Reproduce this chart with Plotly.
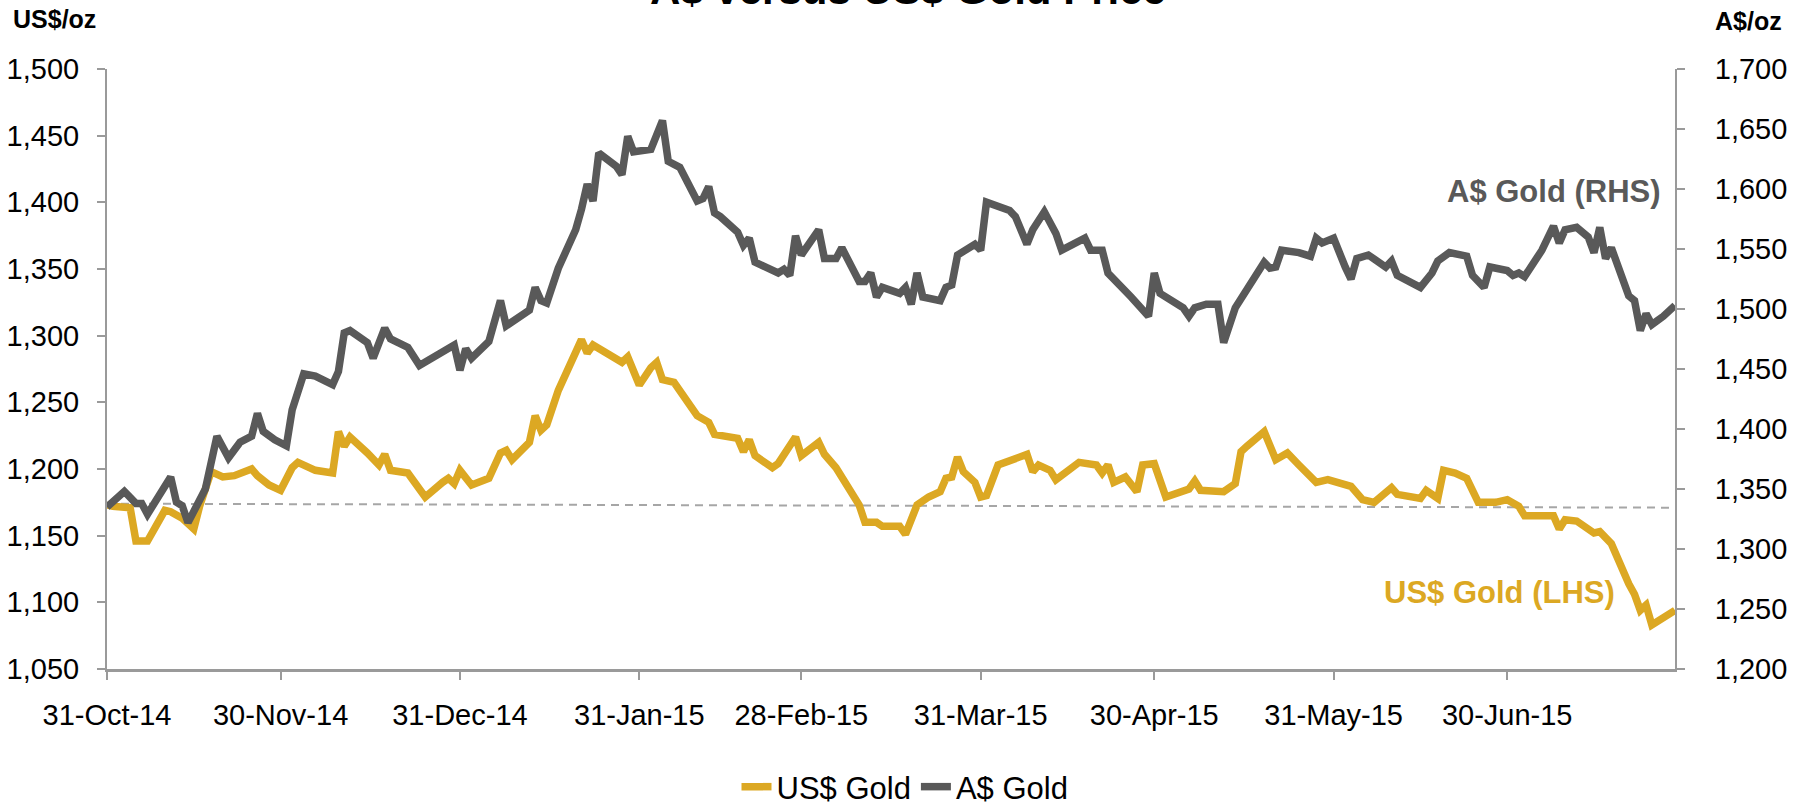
import pandas as pd
import plotly.graph_objects as go

START = "2014-10-31"

us_days = [0, 1, 4, 5, 7, 10, 11, 13, 15, 16,
           18, 20, 22, 25, 26, 28, 30, 32, 33, 36,
           39, 40, 41, 42, 45, 47, 48, 49, 52, 55,
           58, 59, 60, 61, 63, 66, 68, 69, 70, 73,
           74, 75, 76, 78, 82, 83, 84, 89, 90, 92,
           94, 95, 96, 98, 102, 104, 105, 109, 110, 111,
           112, 115, 116, 119, 120, 123, 124, 126, 130, 131,
           133, 134, 137, 138, 140, 142, 144, 145, 146, 147,
           148, 150, 151, 152, 154, 159, 160, 161, 163, 164,
           168, 171, 172, 173, 174, 176, 178, 179, 181, 183,
           187, 188, 189, 193, 195, 196, 197, 200, 202, 204,
           206, 209, 211, 213, 215, 217, 219, 222, 223, 227,
           228, 230, 231, 233, 235, 237, 240, 242, 244, 245,
           250, 251, 252, 254, 257, 258, 260, 263, 264, 265,
           266, 267, 269, 271]
us_gold = [1173, 1172, 1171, 1146, 1146, 1169, 1168, 1163, 1155, 1172,
           1198, 1194, 1195, 1200, 1195, 1188, 1184, 1201, 1205, 1199,
           1197, 1228, 1217, 1224, 1212, 1203, 1211, 1199, 1197, 1179,
           1190, 1193, 1189, 1199, 1188, 1193, 1212, 1214, 1207, 1220,
           1240, 1229, 1233, 1259, 1297, 1287, 1293, 1280, 1284, 1263,
           1276, 1280, 1267, 1265, 1240, 1235, 1226, 1223, 1213, 1222,
           1210, 1201, 1204, 1224, 1210, 1220, 1211, 1201, 1173, 1160,
           1160, 1157, 1157, 1151, 1173, 1179, 1183, 1193, 1194, 1209,
           1198, 1190, 1179, 1180, 1203, 1211, 1198, 1203, 1199, 1192,
           1205, 1203, 1197, 1203, 1190, 1194, 1183, 1203, 1204, 1179,
           1185, 1191, 1184, 1183, 1189, 1213, 1217, 1228, 1207, 1212,
           1203, 1190, 1192, 1190, 1187, 1177, 1175, 1186, 1181, 1178,
           1184, 1178, 1199, 1197, 1193, 1175, 1175, 1177, 1172, 1165,
           1165, 1155, 1162, 1161, 1152, 1153, 1144, 1114, 1106, 1094,
           1098, 1083, 1088, 1094]

aud_days = [0, 3, 5, 6, 7, 11, 12, 13, 14, 17,
            19, 21, 23, 25, 26, 27, 29, 31, 32, 33,
            34, 36, 39, 40, 41, 42, 45, 46, 48, 49,
            52, 54, 56, 60, 61, 62, 63, 66, 68, 69,
            73, 74, 75, 76, 78, 81, 82, 83, 84, 85,
            88, 89, 90, 91, 94, 96, 97, 99, 102, 103,
            104, 105, 106, 109, 110, 111, 112, 116, 117, 118,
            119, 120, 123, 124, 126, 127, 130, 131, 132, 133,
            134, 137, 138, 139, 140, 141, 144, 145, 146, 147,
            150, 151, 152, 156, 157, 159, 160, 162, 164, 165,
            169, 170, 172, 173, 177, 180, 181, 182, 186, 187,
            188, 190, 192, 193, 195, 198, 200, 201, 202, 203,
            206, 208, 209, 210, 212, 214, 215, 216, 218, 221,
            222, 223, 227, 229, 230, 232, 235, 236, 238, 239,
            242, 243, 244, 245, 248, 250, 251, 252, 254, 256,
            257, 258, 259, 260, 262, 263, 264, 265, 266, 267,
            269, 271]
aud_gold = [1335, 1348, 1338, 1338, 1329, 1360, 1339, 1336, 1322, 1350,
            1394, 1376, 1389, 1394, 1413, 1398, 1391, 1386, 1416, 1429,
            1446, 1444, 1437, 1448, 1480, 1482, 1472, 1459, 1484, 1475,
            1468, 1453, 1459, 1470, 1449, 1467, 1459, 1473, 1507, 1486,
            1499, 1518, 1507, 1505, 1534, 1566, 1583, 1604, 1590, 1630,
            1619, 1612, 1644, 1631, 1633, 1657, 1623, 1618, 1590, 1592,
            1602, 1580, 1577, 1564, 1553, 1559, 1539, 1530, 1533, 1528,
            1561, 1545, 1566, 1542, 1542, 1551, 1523, 1523, 1530, 1510,
            1518, 1513, 1518, 1504, 1530, 1510, 1507, 1518, 1520, 1545,
            1554, 1549, 1589, 1582, 1577, 1554, 1566, 1581, 1563, 1549,
            1559, 1549, 1549, 1530, 1510, 1494, 1530, 1513, 1501, 1494,
            1501, 1504, 1504, 1472, 1501, 1523, 1539, 1534, 1535, 1549,
            1547, 1544, 1559, 1555, 1559, 1535, 1525, 1542, 1545, 1535,
            1540, 1528, 1518, 1530, 1540, 1547, 1544, 1528, 1518, 1535,
            1532, 1528, 1530, 1527, 1549, 1569, 1555, 1566, 1568, 1560,
            1547, 1568, 1542, 1551, 1523, 1511, 1507, 1482, 1496, 1487,
            1494, 1503]

trend_days = [0, 271]
trend_us = [1174, 1171]

tick_dates = ["2014-10-31", "2014-11-30", "2014-12-31", "2015-01-31", "2015-02-28",
              "2015-03-31", "2015-04-30", "2015-05-31", "2015-06-30"]
tick_labels = ["31-Oct-14", "30-Nov-14", "31-Dec-14", "31-Jan-15", "28-Feb-15",
               "31-Mar-15", "30-Apr-15", "31-May-15", "30-Jun-15"]

assert len(us_days) == len(us_gold) and len(aud_days) == len(aud_gold)

start = pd.Timestamp(START)
def to_dates(days):
    return [start + pd.Timedelta(days=d) for d in days]

GOLD = "#DCA823"
GREY = "#595959"
AXIS = "#9a9a9a"
FONT = "Liberation Sans, Arial, sans-serif"

W, H = 1803, 805
# plot area in screen pixels (as seen in the reference)
L, R, T, B = 107, 1675, 69, 669
PW, PH = R - L, B - T

fig = go.Figure()
fig.add_trace(go.Scatter(x=to_dates(trend_days), y=trend_us, mode="lines",
                         line=dict(color="#a6a6a6", width=2, dash="8px,6px"),
                         showlegend=False, hoverinfo="skip"))
fig.add_trace(go.Scatter(x=to_dates(us_days), y=us_gold, mode="lines", name="US$ Gold",
                         line=dict(color=GOLD, width=7.5)))
fig.add_trace(go.Scatter(x=to_dates(aud_days), y=aud_gold, mode="lines", name="A$ Gold",
                         line=dict(color=GREY, width=7.5), yaxis="y2"))

def px_x(x):
    return (x - L) / PW

def px_y(y):
    return (B - y) / PH

xr = to_dates([0, max(us_days)])
fig.update_layout(
    width=W, height=H,
    margin=dict(l=L, r=W - R, t=T, b=H - B, autoexpand=False),
    paper_bgcolor="white", plot_bgcolor="white",
    font=dict(family=FONT, size=29, color="#000000"),
    showlegend=True,
    legend=dict(orientation="h", x=px_x(905), xanchor="center",
                y=px_y(787), yanchor="middle",
                font=dict(size=31), itemwidth=30, tracegroupgap=0),
    xaxis=dict(type="date", range=xr, tickvals=[pd.Timestamp(t) for t in tick_dates],
               ticktext=tick_labels, showgrid=False, zeroline=False,
               showline=True, linecolor=AXIS, linewidth=3,
               ticks="outside", ticklen=8, tickwidth=2, tickcolor=AXIS,
               ticklabelstandoff=10, tickfont=dict(size=29)),
    yaxis=dict(range=[1050, 1500], dtick=50, tickformat=",", showgrid=False, zeroline=False,
               showline=True, linecolor=AXIS, linewidth=2,
               ticks="outside", ticklen=8, tickwidth=2, tickcolor=AXIS,
               ticklabelstandoff=12, tickfont=dict(size=29)),
    yaxis2=dict(range=[1200, 1700], dtick=50, tickformat=",", overlaying="y", side="right",
                showgrid=False, zeroline=False,
                showline=True, linecolor=AXIS, linewidth=2,
                ticks="outside", ticklen=8, tickwidth=2, tickcolor=AXIS,
                ticklabelstandoff=24, tickfont=dict(size=29)),
)

fig.add_annotation(text="<b>A$ versus US$ Gold Price</b>", xref="paper", yref="paper",
                   x=px_x(908), y=px_y(-11), xanchor="center", yanchor="middle",
                   showarrow=False, font=dict(size=42, color="#000000"))
fig.add_annotation(text="<b>US$/oz</b>", xref="paper", yref="paper",
                   x=px_x(11), y=px_y(19), xanchor="left", yanchor="middle",
                   showarrow=False, font=dict(size=25, color="#000000"))
fig.add_annotation(text="<b>A$/oz</b>", xref="paper", yref="paper",
                   x=px_x(1784), y=px_y(21), xanchor="right", yanchor="middle",
                   showarrow=False, font=dict(size=25, color="#000000"))
fig.add_annotation(text="<b>A$ Gold (RHS)</b>", xref="paper", yref="paper",
                   x=px_x(1663), y=px_y(192), xanchor="right", yanchor="middle",
                   showarrow=False, font=dict(size=31, color=GREY))
fig.add_annotation(text="<b>US$ Gold (LHS)</b>", xref="paper", yref="paper",
                   x=px_x(1617), y=px_y(592), xanchor="right", yanchor="middle",
                   showarrow=False, font=dict(size=31, color=GOLD))

fig.write_html("out.html", config={"displayModeBar": False},
               post_script="document.body.style.margin='0px';")
